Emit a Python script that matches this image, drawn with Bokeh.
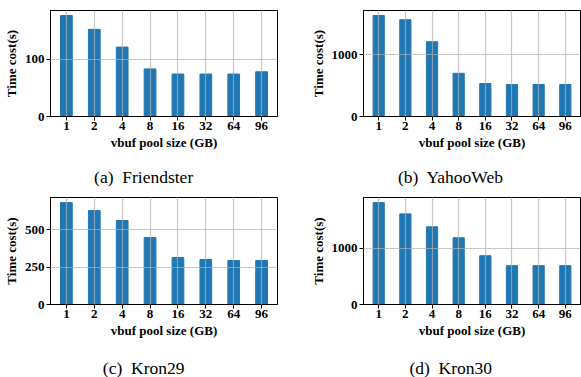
from bokeh.plotting import figure
from bokeh.models import Range1d, FixedTicker
from bokeh.core.properties import value
from bokeh.layouts import gridplot
from bokeh.embed import file_html
from bokeh.resources import INLINE

sizes = ["1", "2", "4", "8", "16", "32", "64", "96"]
friendster = [176, 152, 121, 83, 74, 74, 74, 78]
yahooweb = [1640, 1572, 1215, 702, 535, 519, 519, 519]
kron29 = [682, 629, 562, 448, 314, 301, 294, 294]
kron30 = [1805, 1605, 1376, 1182, 864, 688, 688, 688]

captions = ["(a)\u00a0 Friendster", "(b)\u00a0 YahooWeb", "(c)\u00a0 Kron29", "(d)\u00a0 Kron30"]
yticks_a = [0, 100]
yticks_b = [0, 1000]
yticks_c = [0, 250, 500]
yticks_d = [0, 1000]

SERIF = "Liberation Serif"


def make(vals, yticks, width, height, bl, br, bt, bb):
    xs = list(range(len(sizes)))
    p = figure(width=width, height=height,
               x_range=Range1d(-0.57, len(sizes) - 1 + 0.57),
               y_range=Range1d(0, max(vals) * 1.05),
               output_backend="svg", toolbar_location=None,
               min_border_left=bl, min_border_right=br,
               min_border_top=bt, min_border_bottom=bb)
    p.vbar(x=xs, top=vals, width=0.42, color="#1f77b4")
    p.background_fill_color = "white"
    p.border_fill_color = "white"
    p.outline_line_color = "black"
    p.outline_line_width = 1
    p.outline_line_alpha = 1

    p.xaxis.ticker = FixedTicker(ticks=xs)
    p.xaxis.major_label_overrides = {i: s for i, s in enumerate(sizes)}
    p.yaxis.ticker = FixedTicker(ticks=yticks)
    for ax in (p.xaxis, p.yaxis):
        ax.major_tick_in = 0
        ax.major_tick_out = 4
        ax.minor_tick_in = 0
        ax.minor_tick_out = 0
        ax.axis_line_color = "black"
        ax.major_tick_line_color = "black"
        ax.major_label_text_font = SERIF
        ax.major_label_text_font_style = "bold"
        ax.major_label_text_font_size = "13px"
        ax.major_label_text_color = "black"
        ax.axis_label_text_font = SERIF
        ax.axis_label_text_font_style = "bold"
        ax.axis_label_text_font_size = "13px"
        ax.axis_label_text_color = "black"
    p.xaxis.major_label_standoff = 1
    p.yaxis.major_label_standoff = 2
    p.xaxis.axis_label = "vbuf pool size (GB)"
    p.yaxis.axis_label = "Time cost(s)"
    p.xaxis.axis_label_standoff = 2
    p.yaxis.axis_label_standoff = 3

    p.xgrid.ticker = FixedTicker(ticks=xs)
    p.ygrid.ticker = FixedTicker(ticks=yticks)
    p.grid.grid_line_color = "#b0b0b0"
    p.grid.grid_line_alpha = 0.7
    p.grid.grid_line_width = 1.2
    p.grid.level = "annotation"
    return p


def caption_fig(text, width, height, cx, cy):
    c = figure(width=width, height=height,
               x_range=Range1d(0, width), y_range=Range1d(height, 0),
               output_backend="svg", toolbar_location=None,
               x_axis_type=None, y_axis_type=None,
               min_border=0, min_border_left=0, min_border_right=0,
               min_border_top=0, min_border_bottom=0)
    c.outline_line_color = None
    c.grid.visible = False
    c.background_fill_color = "white"
    c.border_fill_color = "white"
    c.text(x=[cx], y=[cy], text=[text], text_align="center",
           text_baseline="middle", text_font=value(SERIF),
           text_font_size="17.5px", text_color="black")
    return c


pa = make(friendster, yticks_a, 290, 160, 50, 13, 9, 44)
pb = make(yahooweb, yticks_b, 291, 160, 73, 1, 10, 44)
ca = caption_fig(captions[0], 290, 30, 119, 16)
cb = caption_fig(captions[1], 291, 30, 117, 16)
pc = make(kron29, yticks_c, 290, 150, 50, 13, 7, 36)
pd = make(kron30, yticks_d, 291, 150, 73, 1, 6, 36)
cc = caption_fig(captions[2], 290, 37, 119, 27)
cd = caption_fig(captions[3], 291, 37, 117, 27)

grid = gridplot([[pa, pb], [ca, cb], [pc, pd], [cc, cd]], toolbar_location=None)
open("out.html", "w").write(file_html(grid, INLINE))
